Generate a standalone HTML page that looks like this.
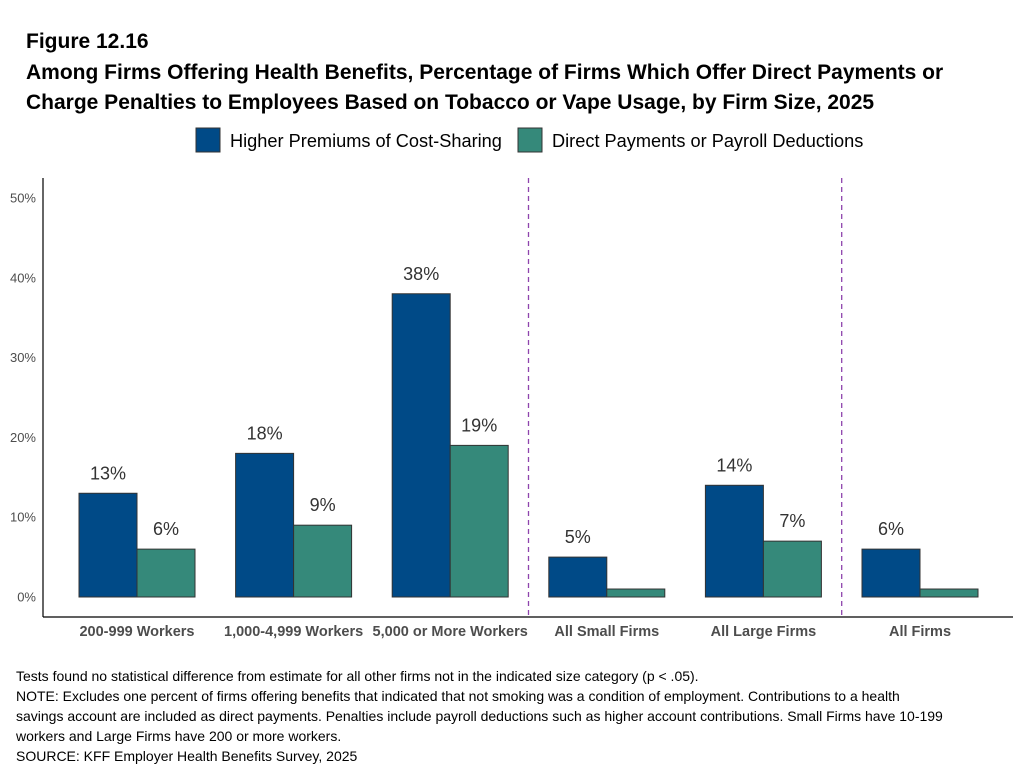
<!DOCTYPE html>
<html><head><meta charset="utf-8"><style>
body{margin:0;background:#fff;font-family:"Liberation Sans",Arial,sans-serif;}
#wrap{position:relative;width:1023px;height:770px;overflow:hidden;}
.t{position:absolute;left:26px;font-weight:bold;color:#000;font-size:21px;white-space:nowrap;}
.note{position:absolute;left:16px;font-size:14px;color:#000;white-space:nowrap;}
</style></head><body>
<div id="wrap">
<div class="t" style="top:30px;font-size:21px">Figure 12.16</div>
<div class="t" style="top:61px">Among Firms Offering Health Benefits, Percentage of Firms Which Offer Direct Payments or</div>
<div class="t" style="top:91px">Charge Penalties to Employees Based on Tobacco or Vape Usage, by Firm Size, 2025</div>
<svg id="chart" width="1023" height="770" style="position:absolute;left:0;top:0"></svg>
<div class="note" style="top:668px">Tests found no statistical difference from estimate for all other firms not in the indicated size category (p &lt; .05).</div>
<div class="note" style="top:688px">NOTE: Excludes one percent of firms offering benefits that indicated that not smoking was a condition of employment. Contributions to a health</div>
<div class="note" style="top:708px">savings account are included as direct payments. Penalties include payroll deductions such as higher account contributions.  Small Firms have 10-199</div>
<div class="note" style="top:728px">workers and Large Firms have 200 or more workers.</div>
<div class="note" style="top:748px">SOURCE: KFF Employer Health Benefits Survey, 2025</div>
</div>
<script>
const categories=["200-999 Workers","1,000-4,999 Workers","5,000 or More Workers","All Small Firms","All Large Firms","All Firms"];
const premiums=[13,18,38,5,14,6];
const payments=[6,9,19,1,7,1];
const premiumLabels=["13%","18%","38%","5%","14%","6%"];
const paymentLabels=["6%","9%","19%","","7%",""];
const yTicks=[0,10,20,30,40,50];
const seriesNames=["Higher Premiums of Cost-Sharing","Direct Payments or Payroll Deductions"];
const colors=["#004a87","#35897a"];
const NS="http://www.w3.org/2000/svg";
const svg=document.getElementById('chart');
function el(tag,attrs){const e=document.createElementNS(NS,tag);for(const k in attrs)e.setAttribute(k,attrs[k]);svg.appendChild(e);return e;}
const y=v=>597-v*7.98;
const xc=i=>137+i*156.6;
const bw=58;
let a=el('line',{x1:43,y1:178,x2:43,y2:617,stroke:'#000','stroke-width':1.2});

a=el('line',{x1:43,y1:617,x2:1013,y2:617,stroke:'#000','stroke-width':1.2});

yTicks.forEach(t=>{
 const tx=el('text',{x:36,y:y(t)+4.5,'text-anchor':'end','font-size':13,fill:'#4d4d4d'});
 tx.textContent=t+'%';
 
 
});
[2.5,4.5].forEach(p=>{
 const d=el('line',{x1:xc(p),y1:178,x2:xc(p),y2:617,stroke:'#8e44ad','stroke-width':1.3,'stroke-dasharray':'5,4'});
 
 
});
categories.forEach((c,i)=>{
 const b1=el('rect',{x:xc(i)-bw,y:y(premiums[i]),width:bw,height:y(0)-y(premiums[i]),fill:colors[0],stroke:'#333','stroke-width':1});
 
 
 const b2=el('rect',{x:xc(i),y:y(payments[i]),width:bw,height:y(0)-y(payments[i]),fill:colors[1],stroke:'#333','stroke-width':1});
 
 
 const l1=el('text',{x:xc(i)-bw/2,y:y(premiums[i])-14,'text-anchor':'middle','font-size':18,fill:'#333'});
 l1.textContent=premiumLabels[i];
 
 
 const l2=el('text',{x:xc(i)+bw/2,y:y(payments[i])-14,'text-anchor':'middle','font-size':18,fill:'#333'});
 l2.textContent=paymentLabels[i];
 
 
 const xl=el('text',{x:xc(i),y:636,'text-anchor':'middle','font-size':14.5,'font-weight':'bold',fill:'#4d4d4d'});
 xl.textContent=c;
 
 
});
[[196,230],[518,552]].forEach((p,k)=>{
 const r=el('rect',{x:p[0],y:128,width:24,height:24,fill:colors[k],stroke:'#333','stroke-width':1});
 
 
 const t=el('text',{x:p[1],y:147,'font-size':18.2,fill:'#000'});
 t.textContent=seriesNames[k];
 
 
});
</script>
</body></html>
